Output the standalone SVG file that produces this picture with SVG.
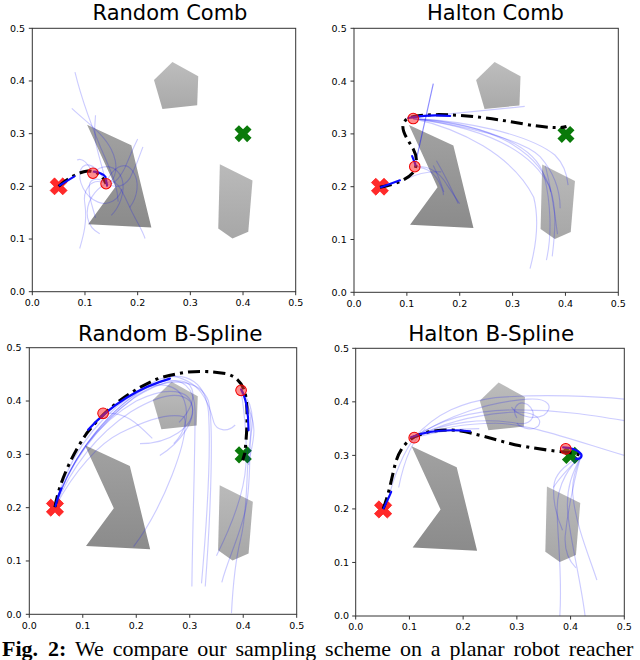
<svg xmlns="http://www.w3.org/2000/svg" xmlns:xlink="http://www.w3.org/1999/xlink" width="640" height="660" viewBox="0 0 640 660">
<style>
.title{font-family:"DejaVu Sans","Liberation Sans",sans-serif;font-size:21.5px;fill:#000;text-anchor:middle}
.ttop{font-size:21px}
.tl{font-family:"DejaVu Sans","Liberation Sans",sans-serif;font-size:9.5px;fill:#000}
.tly{text-anchor:end}
.tlx{text-anchor:middle}
.frame{fill:none;stroke:#333;stroke-width:1}
.tick{stroke:#333;stroke-width:1}
.faint{fill:none;stroke:#0000ff;stroke-opacity:0.2;stroke-width:2.2}
.mid{fill:none;stroke:#0000ff;stroke-opacity:0.45;stroke-width:2.2}
.best{fill:none;stroke:#000;stroke-width:5.7;stroke-dasharray:22.7 9.5 5.7 9.5}
.blue{fill:none;stroke:#0a0aff;stroke-width:4;stroke-linecap:round}
.wp{fill:#ff3030;fill-opacity:0.55;stroke:#f00000;stroke-width:1.9}
.startx{fill:#ff2a2a;stroke:#ff0000;stroke-width:0.6}
.goalx{fill:#0a7a0a}
.cap{font-family:"Liberation Serif","Times New Roman",serif;font-size:22px;fill:#000}
</style>
<defs>
<linearGradient id="gPent" x1="0" y1="0" x2="0" y2="1"><stop offset="0" stop-color="#a9a9a9"/><stop offset="1" stop-color="#bdbdbd"/></linearGradient>
<linearGradient id="gBoom" x1="0" y1="0" x2="0" y2="1"><stop offset="0" stop-color="#8b8b8b"/><stop offset="1" stop-color="#a2a2a2"/></linearGradient>
<linearGradient id="gQuad" x1="0" y1="0" x2="0" y2="1"><stop offset="0" stop-color="#a7a7a7"/><stop offset="1" stop-color="#bababa"/></linearGradient>
<clipPath id="axclip" clipPathUnits="userSpaceOnUse"><rect x="0" y="0" width="500" height="500"/></clipPath>
<g id="obstacles">
<polygon points="266,436 315,409 313,354 247,347 231,402" fill="url(#gPent)"/>
<polygon points="104,317 188,278 226,122 106,128 158,199" fill="url(#gBoom)"/>
<polygon points="356,242 418,211 410,114 380,101 353,120" fill="url(#gQuad)"/>
</g>
<path id="xm" d="M0,-4.4 L4.1,-8.5 L8.5,-4.1 L4.4,0 L8.5,4.1 L4.1,8.5 L0,4.4 L-4.1,8.5 L-8.5,4.1 L-4.4,0 L-8.5,-4.1 L-4.1,-8.5 Z"/>
</defs>
<rect width="640" height="660" fill="#fff"/>

<!-- Random Comb -->
<g id="plot-random-comb">
<text class="title ttop" x="170" y="20">Random Comb</text>
<g transform="translate(32.3,291.7) scale(0.5268,-0.5268)" clip-path="url(#axclip)">
<use xlink:href="#obstacles"/>
<use xlink:href="#xm" class="goalx" transform="translate(400,300) scale(1.9)"/>
<use xlink:href="#xm" class="startx" transform="translate(50,200) scale(1.9)"/>
<g>
<path class="faint" d="M81,417 C95,360 118,300 140,250 C155,215 162,195 163,171"/>
<path class="faint" d="M75,348 C105,320 135,300 150,270 C165,240 160,210 140,205"/>
<path class="faint" d="M140,205 C125,240 100,250 92,232 C85,210 100,180 125,170 C145,162 165,175 170,195"/>
<path class="faint" d="M140,205 C110,220 95,190 100,165 C105,130 95,100 90,82"/>
<path class="faint" d="M140,205 C160,225 175,180 190,150 C200,130 210,115 214,101"/>
<path class="faint" d="M140,205 C150,235 175,250 190,230 C205,210 200,180 185,160"/>
<path class="faint" d="M140,205 C120,195 100,170 105,140 C108,125 118,115 128,110"/>
<path class="faint" d="M140,205 C155,200 170,220 180,245 C188,265 195,280 200,290"/>
<path class="faint" d="M115,225 C105,245 95,255 85,250"/>
<path class="faint" d="M140,205 C130,215 110,220 108,200 C106,180 115,160 120,140"/>
<path class="faint" d="M140,205 C160,195 175,200 185,215 C195,235 205,260 210,275"/>
<path class="faint" d="M140,205 C135,230 125,260 120,285 C118,300 118,320 120,335"/>
<path class="faint" d="M115,225 C135,245 160,240 170,215 C178,190 165,160 150,145"/>
</g>
<path class="best" d="M50,200 Q80,226 105,229 Q130,229 140,205"/>
<path class="blue" d="M52,202 L80,219"/>
<path class="blue" d="M117,228 C126,227 134,224 139,218"/>
<path class="blue" d="M139,216 L142,201"/>
<circle class="wp" cx="115" cy="225" r="10"/>
<circle class="wp" cx="140" cy="205" r="10"/>
</g>
<rect class="frame" x="32.3" y="28.3" width="263.4" height="263.4"/>
<path class="tick" d="M32.3,291.7v3.5M84.98,291.7v3.5M137.66,291.7v3.5M190.34,291.7v3.5M243.02,291.7v3.5M295.7,291.7v3.5M32.3,291.7h-3.5M32.3,239.02h-3.5M32.3,186.34h-3.5M32.3,133.66h-3.5M32.3,80.98h-3.5M32.3,28.3h-3.5"/>
<g class="tl tly">
<text x="25" y="295.1">0.0</text><text x="25" y="242.4">0.1</text><text x="25" y="189.7">0.2</text><text x="25" y="137.1">0.3</text><text x="25" y="84.4">0.4</text><text x="25" y="31.7">0.5</text>
</g>
<g class="tl tlx">
<text x="32.3" y="306">0.0</text><text x="84.98" y="306">0.1</text><text x="137.66" y="306">0.2</text><text x="190.34" y="306">0.3</text><text x="243.02" y="306">0.4</text><text x="295.7" y="306">0.5</text>
</g>
</g>

<!-- Halton Comb -->
<g id="plot-halton-comb">
<text class="title ttop" x="495.5" y="20">Halton Comb</text>
<g transform="translate(354,292.3) scale(0.5286,-0.528)" clip-path="url(#axclip)">
<use xlink:href="#obstacles"/>
<use xlink:href="#xm" class="goalx" transform="translate(401,299) scale(1.9)"/>
<use xlink:href="#xm" class="startx" transform="translate(49,200) scale(1.9)"/>
<g>
<path class="faint" d="M100,330 L323,352"/>
<path class="faint" d="M112,329 C220,320 340,290 360,220 C372,170 375,110 364,61"/>
<path class="faint" d="M112,329 C220,315 330,280 370,200 C385,160 380,110 375,68"/>
<path class="faint" d="M112,329 C200,310 300,260 340,180 C350,140 345,90 333,45"/>
<path class="faint" d="M112,329 C200,318 320,290 352,257 C380,225 390,190 390,159"/>
<path class="faint" d="M112,329 C210,325 330,300 380,260 C395,245 403,225 405,203"/>
<path class="faint" d="M112,329 C180,326 250,310 300,280 C340,255 365,225 372,190"/>
<path class="faint" d="M115,238 C140,240 160,230 175,205 C185,190 195,175 200,168"/>
<path class="faint" d="M115,238 C140,236 155,225 165,200 C168,192 170,188 169,184"/>
<path class="faint" d="M100,215 C120,225 140,230 165,228"/>
<path class="faint" d="M156,249 C170,225 185,195 197,168"/>
<path class="faint" d="M150,240 C160,220 165,205 170,190"/>
<path class="faint" d="M362,240 C372,200 380,150 385,110"/>
<path class="mid" d="M115,238 L150,395"/>
</g>
<path class="best" d="M49,199 C80,205 100,213 113,228 C122,245 118,262 110,275 C100,292 90,305 93,318 C96,328 105,333 125,335 C180,340 250,332 320,319 C360,312 390,310 402,314"/>
<path class="blue" d="M51,199 L87,212"/>
<path class="blue" d="M103,330 C130,336 155,336 182,334"/>
<path class="blue" d="M110,258 L117,240"/>
<circle class="wp" cx="112" cy="329" r="10"/>
<circle class="wp" cx="115" cy="238" r="10"/>
</g>
<rect class="frame" x="354" y="28.3" width="264.3" height="264"/>
<path class="tick" d="M354,292.3v3.5M406.86,292.3v3.5M459.72,292.3v3.5M512.58,292.3v3.5M565.44,292.3v3.5M618.3,292.3v3.5M354,292.3h-3.5M354,239.5h-3.5M354,186.7h-3.5M354,133.9h-3.5M354,81.1h-3.5M354,28.3h-3.5"/>
<g class="tl tly">
<text x="346.7" y="295.7">0.0</text><text x="346.7" y="242.9">0.1</text><text x="346.7" y="190.1">0.2</text><text x="346.7" y="137.3">0.3</text><text x="346.7" y="84.5">0.4</text><text x="346.7" y="31.7">0.5</text>
</g>
<g class="tl tlx">
<text x="354" y="306.6">0.0</text><text x="406.86" y="306.6">0.1</text><text x="459.72" y="306.6">0.2</text><text x="512.58" y="306.6">0.3</text><text x="565.44" y="306.6">0.4</text><text x="618.3" y="306.6">0.5</text>
</g>
</g>

<!-- Random B-Spline -->
<g id="plot-random-bspline">
<text class="title" x="170.3" y="340.7">Random B-Spline</text>
<g transform="translate(29.3,614.3) scale(0.5348,-0.5332)" clip-path="url(#axclip)">
<use xlink:href="#obstacles"/>
<use xlink:href="#xm" class="goalx" transform="translate(400,299) scale(1.9)"/>
<use xlink:href="#xm" class="startx" transform="translate(48,200) scale(1.9)"/>
<g>
<path class="faint" d="M48,201 C70,290 120,360 190,410 C240,445 280,430 290,400 C300,370 290,340 270,320"/>
<path class="faint" d="M48,201 C75,290 130,360 200,400 C260,430 300,420 305,390 C310,350 260,320 207,320"/>
<path class="faint" d="M48,201 C80,280 130,340 190,380 C240,410 280,420 300,400 C320,370 280,320 244,298"/>
<path class="faint" d="M48,201 C85,270 130,320 170,340 C210,360 260,380 290,370 C300,330 250,200 195,127"/>
<path class="faint" d="M48,201 C80,300 150,390 230,430 C290,455 310,420 310,380 C310,300 305,150 304,52"/>
<path class="faint" d="M48,201 C80,300 150,390 240,440 C300,460 330,430 335,380 C340,300 330,150 322,58"/>
<path class="faint" d="M48,201 C70,270 120,350 200,410 C260,450 320,440 335,400 C345,360 340,200 329,52"/>
<path class="faint" d="M48,201 C75,285 125,355 195,405 C250,440 285,445 300,430 C315,410 300,380 280,360"/>
<path class="faint" d="M396,420 C415,400 420,370 415,340 C410,300 415,250 405,200 C395,150 370,100 360,60"/>
<path class="faint" d="M396,420 C412,395 418,360 412,320 C405,280 410,200 395,140 C385,100 380,40 378,2"/>
<path class="faint" d="M396,420 C408,390 420,370 420,345 C420,320 412,300 410,280"/>
<path class="faint" d="M396,420 C402,380 408,330 405,280 C402,230 380,170 350,110"/>
<path class="faint" d="M260,448 C320,440 335,400 345,360 C350,345 370,340 385,355"/>
<path class="faint" d="M138,377 C180,380 200,360 230,330"/>
</g>
<path class="best" d="M48,201 C55,245 80,300 107,339 C135,375 175,413 238,441 C280,455 320,460 369,451 C390,445 403,430 406,400 C409,370 406,330 403,302 L399,289"/>
<path class="blue" d="M49,203 C52,215 56,228 60,236"/>
<path class="blue" d="M110,346 C150,390 200,424 263,442"/>
<path class="blue" d="M396,422 C404,410 410,380 410,345"/>
<circle class="wp" cx="138" cy="377" r="10"/>
<circle class="wp" cx="396" cy="420" r="10"/>
</g>
<rect class="frame" x="29.3" y="347.7" width="267.4" height="266.6"/>
<path class="tick" d="M29.3,614.3v3.5M82.78,614.3v3.5M136.26,614.3v3.5M189.74,614.3v3.5M243.22,614.3v3.5M296.7,614.3v3.5M29.3,614.3h-3.5M29.3,560.98h-3.5M29.3,507.66h-3.5M29.3,454.34h-3.5M29.3,401.02h-3.5M29.3,347.7h-3.5"/>
<g class="tl tly">
<text x="21.5" y="617.7">0.0</text><text x="21.5" y="564.4">0.1</text><text x="21.5" y="511.1">0.2</text><text x="21.5" y="457.8">0.3</text><text x="21.5" y="404.4">0.4</text><text x="21.5" y="351.1">0.5</text>
</g>
<g class="tl tlx">
<text x="29.3" y="629.3">0.0</text><text x="82.78" y="629.3">0.1</text><text x="136.26" y="629.3">0.2</text><text x="189.74" y="629.3">0.3</text><text x="243.22" y="629.3">0.4</text><text x="296.7" y="629.3">0.5</text>
</g>
</g>

<!-- Halton B-Spline -->
<g id="plot-halton-bspline">
<text class="title" x="491.2" y="340.7">Halton B-Spline</text>
<g transform="translate(355.7,616) scale(0.5372,-0.5354)" clip-path="url(#axclip)">
<use xlink:href="#obstacles"/>
<use xlink:href="#xm" class="goalx" transform="translate(400,300) scale(1.9)"/>
<use xlink:href="#xm" class="startx" transform="translate(51,199) scale(1.9)"/>
<g>
<path class="faint" d="M109,333 C150,380 200,400 260,408 C350,415 450,410 500,405"/>
<path class="faint" d="M109,333 C160,370 230,385 300,385 C380,385 440,375 500,365"/>
<path class="faint" d="M109,333 C170,365 240,370 300,360 C330,355 340,380 320,395 C300,405 290,385 300,370"/>
<path class="faint" d="M109,333 C160,360 220,375 280,380 C330,385 350,370 340,355 C330,345 310,350 300,360"/>
<path class="faint" d="M109,333 C150,350 200,360 260,360 C320,360 400,330 500,300"/>
<path class="faint" d="M109,333 C170,375 250,400 320,405 C360,408 370,390 350,375 C330,365 300,375 290,390"/>
<path class="faint" d="M80,240 C90,290 105,330 130,350"/>
<path class="faint" d="M60,215 C70,260 90,310 115,340"/>
<path class="faint" d="M109,333 C150,345 185,350 230,350"/>
<path class="faint" d="M420,300 C400,280 375,250 375,200 C375,150 385,80 380,0"/>
<path class="faint" d="M420,300 C405,270 390,240 395,190 C400,140 420,60 427,0"/>
<path class="faint" d="M420,300 C410,275 400,250 405,220 C410,170 435,110 449,67"/>
<path class="faint" d="M420,300 C400,280 380,260 368,240"/>
<path class="faint" d="M420,300 C410,270 395,200 390,150 C388,120 400,100 410,90"/>
<path class="faint" d="M420,300 C395,285 375,270 370,250 C365,225 372,190 385,160"/>
</g>
<path class="best" d="M51,200 C60,222 66,252 73,282 C79,305 90,324 110,335 C135,346 160,349 185,347 C220,343 260,328 306,318 C340,312 370,308 390,306 C405,305 415,302 418,300"/>
<path class="blue" d="M52,201 C57,212 62,222 66,232"/>
<path class="blue" d="M103,334 C130,345 165,350 213,345"/>
<path class="blue" d="M386,315 C400,315 415,310 420,302 C422,296 416,292 410,294"/>
<circle class="wp" cx="109" cy="333" r="10"/>
<circle class="wp" cx="391" cy="312" r="10"/>
</g>
<rect class="frame" x="355.7" y="348.3" width="268.6" height="267.7"/>
<path class="tick" d="M355.7,616v3.5M409.42,616v3.5M463.14,616v3.5M516.86,616v3.5M570.58,616v3.5M624.3,616v3.5M355.7,616h-3.5M355.7,562.46h-3.5M355.7,508.92h-3.5M355.7,455.38h-3.5M355.7,401.84h-3.5M355.7,348.3h-3.5"/>
<g class="tl tly">
<text x="349" y="619.4">0.0</text><text x="349" y="565.9">0.1</text><text x="349" y="512.3">0.2</text><text x="349" y="458.8">0.3</text><text x="349" y="405.2">0.4</text><text x="349" y="351.7">0.5</text>
</g>
<g class="tl tlx">
<text x="355.7" y="630.3">0.0</text><text x="409.42" y="630.3">0.1</text><text x="463.14" y="630.3">0.2</text><text x="516.86" y="630.3">0.3</text><text x="570.58" y="630.3">0.4</text><text x="624.3" y="630.3">0.5</text>
</g>
</g>

<g id="caption">
<text class="cap" y="656"><tspan x="2" font-weight="bold">Fig.</tspan><tspan x="48" font-weight="bold">2:</tspan><tspan x="75" word-spacing="3.4">We compare our sampling scheme on a planar robot reacher</tspan></text>
</g>
</svg>
